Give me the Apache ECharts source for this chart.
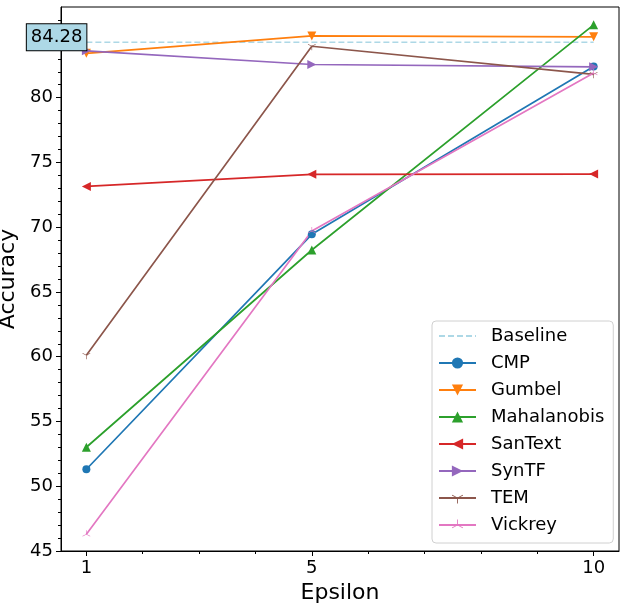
<!DOCTYPE html>
<html>
<head>
<meta charset="utf-8">
<script src="https://cdn.jsdelivr.net/npm/echarts@6/dist/echarts.min.js"></script>
<style>
  html, body { margin: 0; padding: 0; background: #fff; }
  #chart { width: 626px; height: 607px; }
</style>
</head>
<body>
<div id="chart"></div>
<script>
// epsilon values on the x axis
const epsilon = [1, 5, 10];
const baselineValue = 84.28;

// accuracy per method, one value per epsilon
const cmp = [51.31, 69.45, 82.41];
const gumbel = [83.42, 84.77, 84.70];
const mahalanobis = [53.01, 68.24, 85.62];
const sanText = [73.15, 74.08, 74.10];
const synTF = [83.62, 82.56, 82.38];
const tem = [60.12, 83.97, 81.80];
const vickrey = [46.30, 69.71, 81.90];

const xMajorTicks = [1, 5, 10];
const xMinorTicks = [2, 3, 4, 6, 7, 8, 9];
const yMajorTicks = [45, 50, 55, 60, 65, 70, 75, 80, 85];
const yMinorTicks = [46, 47, 48, 49, 51, 52, 53, 54, 56, 57, 58, 59, 61, 62, 63, 64,
    66, 67, 68, 69, 71, 72, 73, 74, 76, 77, 78, 79, 81, 82, 83, 84, 86];

// matplotlib-like thin tri markers ('1' = tri_down, '2' = tri_up)
const triDown = 'path://M9.3,10L10.7,10L10.7,20L9.3,20Z M10.35,9.39L1.69,4.39L0.99,5.61L9.65,10.61Z M9.65,9.39L18.31,4.39L19.01,5.61L10.35,10.61Z M10,0L10.01,0L10,0.01Z';
const triUp = 'path://M9.3,10L10.7,10L10.7,0L9.3,0Z M10.35,10.61L1.69,15.61L0.99,14.39L9.65,9.39Z M9.65,10.61L18.31,15.61L19.01,14.39L10.35,9.39Z M10,20L10.01,20L10,19.99Z';

const font = 'DejaVu Sans';

function pairs(values) {
    return epsilon.map((e, i) => [e, values[i]]);
}

function method(name, values, color, symbol, size) {
    return {
        name: name,
        type: 'line',
        data: pairs(values),
        color: color,
        symbol: symbol,
        symbolSize: size,
        showAllSymbol: true,
        lineStyle: { width: 1.7, color: color },
        itemStyle: { color: color },
        emphasis: { disabled: true }
    };
}

let option = {
    animation: false,
    grid: {
        left: 61, right: 7, top: 7, bottom: 56,
        outerBoundsMode: 'none',
        containLabel: false,
        show: true, borderColor: '#000', borderWidth: 1
    },
    legend: {
        orient: 'vertical',
        left: 432,
        top: 321,
        padding: [5, 9, 8, 6],
        itemWidth: 37,
        itemHeight: 14,
        itemGap: 7,
        borderColor: '#d0d0d0',
        borderWidth: 1,
        borderRadius: 4,
        backgroundColor: 'rgba(255,255,255,0.8)',
        textStyle: { fontFamily: font, fontSize: 18, color: '#000', lineHeight: 20, padding: [0, 0, 0, 10] },
        data: [
            { name: 'Baseline', itemStyle: { opacity: 0 } },
            'CMP', 'Gumbel', 'Mahalanobis', 'SanText', 'SynTF', 'TEM', 'Vickrey'
        ]
    },
    xAxis: [{
        type: 'value',
        min: 0.55,
        max: 10.45,
        name: 'Epsilon',
        nameLocation: 'middle',
        nameGap: 24,
        nameTextStyle: { fontFamily: font, fontSize: 22, color: '#000', verticalAlign: 'top' },
        axisLine: { show: true, lineStyle: { color: '#000', width: 1 } },
        axisTick: { show: true, length: 5, lineStyle: { color: '#000' }, customValues: xMajorTicks },
        axisLabel: { fontFamily: font, fontSize: 18, color: '#000', margin: 8, customValues: xMajorTicks },
        splitLine: { show: false }
    }, {
        type: 'value',
        min: 0.55,
        max: 10.45,
        position: 'bottom',
        axisLine: { show: false },
        axisTick: { show: true, length: 3, lineStyle: { color: '#000' }, customValues: xMinorTicks },
        axisLabel: { show: false },
        splitLine: { show: false }
    }],
    yAxis: [{
        type: 'value',
        min: 45,
        max: 87,
        name: 'Accuracy',
        nameLocation: 'middle',
        nameGap: 33,
        nameTextStyle: { fontFamily: font, fontSize: 22, color: '#000' },
        axisLine: { show: true, lineStyle: { color: '#000', width: 1 } },
        axisTick: { show: true, length: 5, lineStyle: { color: '#000' }, customValues: yMajorTicks },
        axisLabel: { fontFamily: font, fontSize: 18, color: '#000', margin: 8, customValues: yMajorTicks },
        splitLine: { show: false }
    }, {
        type: 'value',
        min: 45,
        max: 87,
        position: 'left',
        axisLine: { show: false },
        axisTick: { show: true, length: 3, lineStyle: { color: '#000' }, customValues: yMinorTicks },
        axisLabel: { show: false },
        splitLine: { show: false }
    }],
    series: [
        {
            name: 'Baseline',
            type: 'line',
            data: pairs(epsilon.map(() => baselineValue)),
            color: '#add8e6',
            symbol: 'none',
            lineStyle: { width: 1.7, type: [6, 3], color: '#add8e6' },
            emphasis: { disabled: true },
            markPoint: {
                symbol: 'rect',
                symbolSize: 0,
                silent: true,
                data: [{ coord: [epsilon[0], baselineValue], value: baselineValue }],
                label: {
                    show: true,
                    position: 'left',
                    distance: 0,
                    offset: [0, -5],
                    formatter: baselineValue.toFixed(2),
                    fontFamily: font,
                    fontSize: 18,
                    color: '#000',
                    lineHeight: 20,
                    backgroundColor: '#add8e6',
                    borderColor: '#000',
                    borderWidth: 1,
                    padding: [3, 4, 3, 4]
                }
            }
        },
        method('CMP', cmp, '#1f77b4', 'circle', 8),
        method('Gumbel', gumbel, '#ff7f0e', 'triangle', 9),
        method('Mahalanobis', mahalanobis, '#2ca02c', 'triangle', 9),
        method('SanText', sanText, '#d62728', 'triangle', 9),
        method('SynTF', synTF, '#9467bd', 'triangle', 9),
        method('TEM', tem, '#8c564b', triDown, 8),
        method('Vickrey', vickrey, '#e377c2', triUp, 8)
    ]
};

// triangle orientations like matplotlib 'v', '^', '<', '>'
option.series[2].symbolRotate = 180;
option.series[4].symbolRotate = 90;
option.series[5].symbolRotate = -90;

echarts.init(document.getElementById('chart'), null, { renderer: 'canvas' }).setOption(option);
</script>
</body>
</html>
